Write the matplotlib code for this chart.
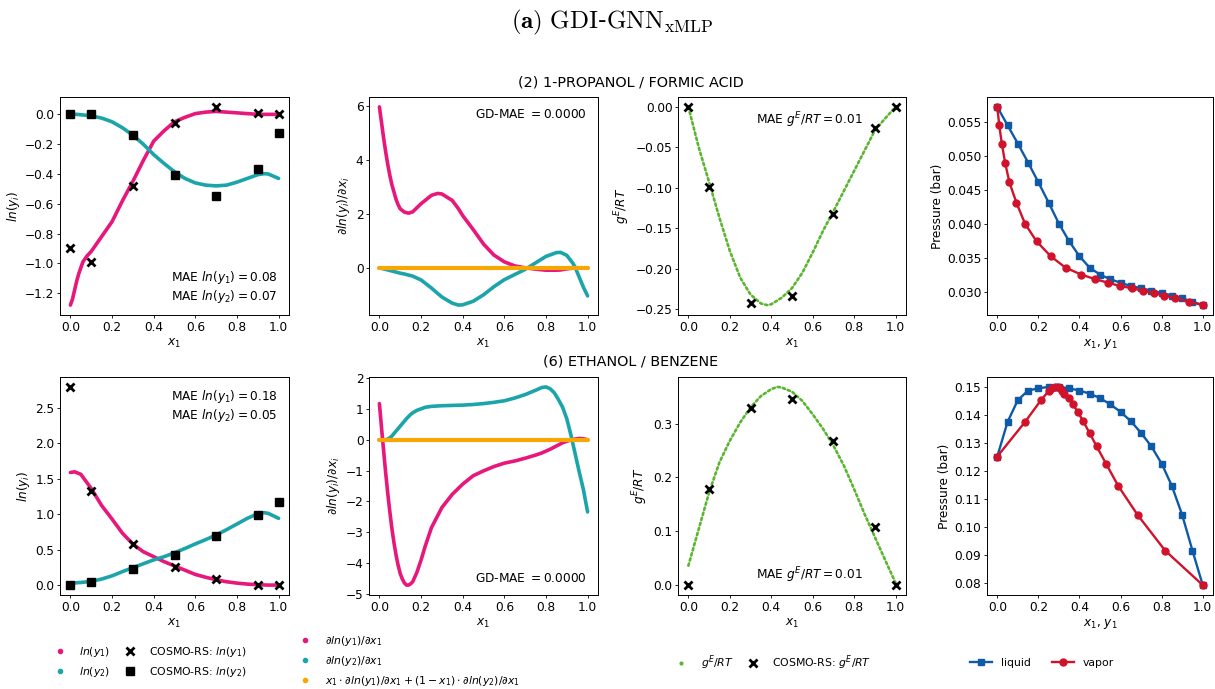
import numpy as np
import matplotlib
matplotlib.use("Agg")
import matplotlib.pyplot as plt
from matplotlib.lines import Line2D
from matplotlib.ticker import MultipleLocator

# colours
PINK = '#e8177b'
TEAL = '#1ba4a9'
ORANGE = '#f8a603'
GREEN = '#5cb531'
BLUE = '#0f5aa7'
RED = '#d1122b'

# COSMO-RS reference compositions
cosmo_x = [0.0, 0.1, 0.3, 0.5, 0.7, 0.9, 1.0]

# ---------------- (2) 1-PROPANOL / FORMIC ACID ----------------
lng_x_top = [0.0, 0.01, 0.02, 0.03, 0.04, 0.05, 0.06, 0.08, 0.1, 0.15, 0.2, 0.25, 0.3, 0.35,
             0.4, 0.45, 0.5, 0.55, 0.6, 0.65, 0.7, 0.75, 0.8, 0.85, 0.9, 0.93, 0.95, 1.0]
lng1_top = [-1.28, -1.24, -1.18, -1.12, -1.07, -1.03, -0.99, -0.95, -0.92, -0.82, -0.72, -0.58,
            -0.45, -0.31, -0.18, -0.11, -0.05, -0.02, 0.005, 0.015, 0.02, 0.015, 0.01, 0.005,
            0.0, 0.0, 0.0, 0.0]
lng2_top = [0.0, 0.0, 0.0, 0.0, -0.001, -0.003, -0.004, -0.007, -0.01, -0.025, -0.05, -0.09,
            -0.14, -0.2, -0.27, -0.33, -0.385, -0.43, -0.46, -0.475, -0.48, -0.475, -0.455,
            -0.43, -0.405, -0.398, -0.40, -0.43]
cosmo_lng1_top = [-0.90, -0.99, -0.48, -0.06, 0.05, 0.01, 0.0]
cosmo_lng2_top = [0.0, 0.0, -0.14, -0.41, -0.55, -0.37, -0.125]

grad_x_top = [0.0, 0.01, 0.02, 0.03, 0.04, 0.05, 0.06, 0.07, 0.08, 0.09, 0.1, 0.12, 0.14, 0.16,
              0.2, 0.25, 0.28, 0.3, 0.35, 0.38, 0.4, 0.45, 0.5, 0.55, 0.6, 0.65, 0.7, 0.75, 0.8,
              0.85, 0.87, 0.9, 0.93, 0.94, 0.96, 0.98, 1.0]
grad1_top = [5.95, 5.38, 4.81, 4.29, 3.83, 3.42, 3.07, 2.80, 2.53, 2.33, 2.18, 2.06, 2.02, 2.07,
             2.37, 2.68, 2.75, 2.73, 2.49, 2.18, 1.93, 1.42, 0.88, 0.47, 0.22, 0.07, 0.0, -0.05,
             -0.09, -0.09, -0.08, -0.04, -0.01, 0.0, 0.0, 0.0, 0.0]
grad2_top = [0.0, -0.02, -0.04, -0.06, -0.08, -0.1, -0.12, -0.14, -0.16, -0.18, -0.2, -0.23,
             -0.27, -0.31, -0.45, -0.75, -0.95, -1.08, -1.31, -1.38, -1.37, -1.24, -1.0, -0.7,
             -0.44, -0.25, -0.06, 0.18, 0.42, 0.56, 0.57, 0.46, 0.16, 0.02, -0.35, -0.72, -1.04]
gd_x = [0.0, 1.0]
gd_top = [0.0, 0.0]

ge_x_top = [0.0, 0.05, 0.1, 0.15, 0.2, 0.25, 0.3, 0.35, 0.38, 0.4, 0.45, 0.5, 0.55, 0.6, 0.65,
            0.7, 0.75, 0.8, 0.85, 0.9, 0.95, 1.0]
ge_top = [0.0, -0.05, -0.093, -0.137, -0.178, -0.211, -0.232, -0.243, -0.245, -0.244, -0.236,
          -0.224, -0.205, -0.18, -0.153, -0.129, -0.104, -0.079, -0.054, -0.029, -0.014, 0.0]
cosmo_ge_top = [0.0, -0.099, -0.242, -0.234, -0.132, -0.026, 0.0]

x_liq = [0.0, 0.05, 0.1, 0.15, 0.2, 0.25, 0.3, 0.35, 0.4, 0.45, 0.5, 0.55, 0.6, 0.65, 0.7, 0.75,
         0.8, 0.85, 0.9, 0.95, 1.0]
P_top = [0.0572, 0.0545, 0.0518, 0.0490, 0.0461, 0.0431, 0.0400, 0.0374, 0.0352, 0.0335, 0.0325,
         0.0318, 0.0313, 0.0308, 0.0305, 0.0301, 0.0298, 0.0294, 0.0290, 0.0285, 0.0280]
y_vap_top = [0.0, 0.0096, 0.022, 0.038, 0.059, 0.093, 0.135, 0.191, 0.26, 0.333, 0.409, 0.478,
             0.54, 0.598, 0.654, 0.708, 0.761, 0.8125, 0.867, 0.934, 1.0]

# ---------------- (6) ETHANOL / BENZENE ----------------
lng_x_bot = [0.0, 0.02, 0.05, 0.1, 0.15, 0.2, 0.25, 0.3, 0.35, 0.4, 0.45, 0.5, 0.55, 0.6, 0.65,
             0.7, 0.75, 0.8, 0.85, 0.9, 0.93, 0.95, 1.0]
lng1_bot = [1.585, 1.595, 1.56, 1.36, 1.12, 0.93, 0.73, 0.577, 0.47, 0.40, 0.33, 0.27, 0.21,
            0.15, 0.11, 0.075, 0.047, 0.028, 0.014, 0.005, 0.002, 0.0, 0.0]
lng2_bot = [0.028, 0.03, 0.037, 0.052, 0.085, 0.13, 0.19, 0.245, 0.30, 0.355, 0.40, 0.455,
            0.515, 0.58, 0.64, 0.705, 0.78, 0.86, 0.94, 1.005, 1.02, 1.01, 0.94]
cosmo_lng1_bot = [2.79, 1.32, 0.58, 0.25, 0.085, 0.005, 0.0]
cosmo_lng2_bot = [0.0, 0.05, 0.22, 0.43, 0.69, 0.99, 1.17]

grad_x_bot = [0.0, 0.01, 0.02, 0.03, 0.04, 0.05, 0.06, 0.07, 0.08, 0.09, 0.1, 0.11, 0.12, 0.13,
              0.14, 0.15, 0.16, 0.18, 0.2, 0.22, 0.25, 0.3, 0.35, 0.4, 0.45, 0.5, 0.55, 0.6,
              0.65, 0.7, 0.75, 0.78, 0.8, 0.82, 0.84, 0.86, 0.88, 0.9, 0.92, 0.94, 0.96, 0.98,
              1.0]
grad1_bot = [1.17, 0.40, -0.34, -1.07, -1.73, -2.33, -2.88, -3.34, -3.74, -4.07, -4.34, -4.51,
             -4.64, -4.71, -4.71, -4.67, -4.60, -4.30, -3.90, -3.45, -2.85, -2.20, -1.77,
             -1.44, -1.17, -1.01, -0.87, -0.76, -0.69, -0.60, -0.50, -0.43, -0.37, -0.31,
             -0.24, -0.17, -0.10, -0.05, -0.01, 0.02, 0.04, 0.03, 0.0]
grad2_bot = [0.0, 0.0, 0.0, 0.0, 0.02, 0.06, 0.12, 0.2, 0.28, 0.36, 0.44, 0.52, 0.6, 0.68, 0.75,
             0.82, 0.87, 0.95, 1.0, 1.05, 1.08, 1.1, 1.11, 1.12, 1.14, 1.17, 1.21, 1.26, 1.35,
             1.46, 1.6, 1.69, 1.71, 1.65, 1.52, 1.3, 1.05, 0.68, 0.15, -0.45, -1.05, -1.62,
             -2.34]
gd_bot = [0.0, 0.0]

ge_x_bot = [0.0, 0.05, 0.1, 0.15, 0.2, 0.25, 0.3, 0.35, 0.4, 0.43, 0.45, 0.5, 0.55, 0.6, 0.65,
            0.7, 0.75, 0.8, 0.85, 0.9, 0.95, 1.0]
ge_bot = [0.036, 0.104, 0.172, 0.228, 0.268, 0.302, 0.33, 0.351, 0.364, 0.368, 0.367, 0.359,
          0.342, 0.317, 0.29, 0.259, 0.222, 0.178, 0.132, 0.089, 0.046, 0.004]
cosmo_ge_bot = [0.0, 0.179, 0.329, 0.345, 0.267, 0.108, 0.0]

P_bot = [0.1251, 0.1374, 0.1452, 0.1486, 0.1494, 0.1499, 0.1499, 0.1494, 0.1486, 0.1475, 0.1459,
         0.1437, 0.1410, 0.1377, 0.1335, 0.1287, 0.1226, 0.1146, 0.1043, 0.0916, 0.0793]
y_vap_bot = [0.0, 0.135, 0.213, 0.252, 0.268, 0.282, 0.295, 0.306, 0.316, 0.327, 0.348, 0.368,
             0.392, 0.418, 0.449, 0.484, 0.529, 0.589, 0.683, 0.817, 1.0]

mae_lng_top = ['0.08', '0.07']
mae_lng_bot = ['0.18', '0.05']
mae_ge = ['0.01', '0.01']
gd_mae = ['0.0000', '0.0000']

# y tick spacing per row: ln(y), gradient, gE/RT, pressure
ystep = [[0.2, 2, 0.05, 0.005], [0.5, 1, 0.1, 0.01]]

plt.rcParams['font.size'] = 8.7
plt.rcParams['axes.linewidth'] = 0.7
for ax_ in ('xtick', 'ytick'):
    plt.rcParams[ax_ + '.major.size'] = 2.2
    plt.rcParams[ax_ + '.major.width'] = 0.6
    plt.rcParams[ax_ + '.major.pad'] = 1.8
plt.rcParams['axes.labelpad'] = 2.5

W, H = 1215, 689
fig = plt.figure(figsize=(W / 100, H / 100), dpi=100)


def box(left, top, w=228, h=218):
    return [left / W, 1 - (top + h) / H, w / W, h / H]


lefts = [60, 369, 678, 987]
tops = [97, 377]

rows = [
    dict(lx=lng_x_top, l1=lng1_top, l2=lng2_top, c1=cosmo_lng1_top, c2=cosmo_lng2_top,
         gx=grad_x_top, g1=grad1_top, g2=grad2_top, gd=gd_top,
         ex=ge_x_top, ge=ge_top, ce=cosmo_ge_top, P=P_top, yv=y_vap_top,
         mae=mae_lng_top, mae_pos='bottom'),
    dict(lx=lng_x_bot, l1=lng1_bot, l2=lng2_bot, c1=cosmo_lng1_bot, c2=cosmo_lng2_bot,
         gx=grad_x_bot, g1=grad1_bot, g2=grad2_bot, gd=gd_bot,
         ex=ge_x_bot, ge=ge_bot, ce=cosmo_ge_bot, P=P_bot, yv=y_vap_bot,
         mae=mae_lng_bot, mae_pos='top'),
]

for r, d in enumerate(rows):
    top = tops[r]
    # ln gamma
    ax = fig.add_axes(box(lefts[0], top, 229))
    ax.plot(d['lx'], d['l1'], color=PINK, lw=2.6, solid_capstyle='round')
    ax.plot(d['lx'], d['l2'], color=TEAL, lw=2.6, solid_capstyle='round')
    ax.plot(cosmo_x, d['c1'], 'x', color='black', ms=6, mew=2)
    ax.plot(cosmo_x, d['c2'], 's', color='black', ms=5.5)
    ax.set_xlabel('$x_1$')
    ax.set_ylabel('$ln(y_i)$')
    ax.yaxis.set_major_locator(MultipleLocator(ystep[r][0]))
    txt = 'MAE $ln(y_1) = %s$\nMAE $ln(y_2) = %s$' % (d['mae'][0], d['mae'][1])
    if d['mae_pos'] == 'bottom':
        ax.text(0.95, 0.045, txt, transform=ax.transAxes, ha='right', va='bottom')
    else:
        ax.text(0.95, 0.95, txt, transform=ax.transAxes, ha='right', va='top')

    # gradients
    ax = fig.add_axes(box(lefts[1], top, 229))
    ax.plot(d['gx'], d['g1'], color=PINK, lw=2.6, solid_capstyle='round')
    ax.plot(d['gx'], d['g2'], color=TEAL, lw=2.6, solid_capstyle='round')
    ax.plot(gd_x, d['gd'], color=ORANGE, lw=3, solid_capstyle='round', zorder=5)
    ax.set_xlabel('$x_1$')
    ax.set_ylabel(r'$\partial ln(y_i)/\partial x_i$')
    ax.yaxis.set_major_locator(MultipleLocator(ystep[r][1]))
    if r == 0:
        ax.text(0.95, 0.95, 'GD-MAE $=%s$' % gd_mae[r], transform=ax.transAxes, ha='right', va='top')
    else:
        ax.text(0.95, 0.045, 'GD-MAE $=%s$' % gd_mae[r], transform=ax.transAxes, ha='right', va='bottom')

    # excess Gibbs energy
    ax = fig.add_axes(box(lefts[2], top))
    ax.plot(d['ex'], d['ge'], color=GREEN, lw=1.9, ls=(0, (0.9, 1.1)), dash_capstyle='round')
    ax.plot(cosmo_x, d['ce'], 'x', color='black', ms=6, mew=2)
    ax.set_xlabel('$x_1$')
    ax.set_ylabel('$g^E/RT$')
    ax.yaxis.set_major_locator(MultipleLocator(ystep[r][2]))
    if r == 0:
        ax.text(0.81, 0.94, 'MAE $g^E/RT = %s$' % mae_ge[r], transform=ax.transAxes, ha='right', va='top')
    else:
        ax.text(0.81, 0.045, 'MAE $g^E/RT = %s$' % mae_ge[r], transform=ax.transAxes, ha='right', va='bottom')

    # isothermal VLE
    ax = fig.add_axes(box(lefts[3], top, 226))
    ax.plot(x_liq, d['P'], '-s', color=BLUE, lw=1.7, ms=5)
    ax.plot(d['yv'], d['P'], '-o', color=RED, lw=1.7, ms=5)
    ax.set_xlabel('$x_1$, $y_1$')
    ax.set_ylabel('Pressure (bar)')
    ax.yaxis.set_major_locator(MultipleLocator(ystep[r][3]))

fig.text(631 / W, 1 - 82 / H, '(2) 1-PROPANOL / FORMIC ACID', ha='center', va='center', fontsize=10.4)
fig.text(631 / W, 1 - 362 / H, '(6) ETHANOL / BENZENE', ha='center', va='center', fontsize=10.4)
fig.text(612 / W, 1 - 22 / H, r'$\mathbf{(a)}\ \mathrm{GDI}$-$\mathrm{GNN}_{\mathrm{xMLP}}$',
         ha='center', va='center', fontsize=18, math_fontfamily='cm', family='DejaVu Serif')

# legends below each column
leg_kw = dict(frameon=False, fontsize=7.8, loc='center', handletextpad=0.8, labelspacing=0.55)
h1 = [Line2D([], [], ls='none', marker='o', ms=3, color=PINK),
      Line2D([], [], ls='none', marker='o', ms=3, color=TEAL),
      Line2D([], [], ls='none', marker='x', ms=6, mew=2, color='black'),
      Line2D([], [], ls='none', marker='s', ms=5.5, color='black')]
fig.legend(h1, ['$ln(y_1)$', '$ln(y_2)$', 'COSMO-RS: $ln(y_1)$', 'COSMO-RS: $ln(y_2)$'],
           ncol=2, columnspacing=0.8, bbox_to_anchor=(148 / W, 1 - 662 / H), **leg_kw)

h2 = [Line2D([], [], ls='none', marker='o', ms=3, color=PINK),
      Line2D([], [], ls='none', marker='o', ms=3, color=TEAL),
      Line2D([], [], ls='none', marker='o', ms=3, color=ORANGE)]
fig.legend(h2, [r'$\partial ln(y_1)/\partial x_1$', r'$\partial ln(y_2)/\partial x_1$',
                r'$x_1 \cdot \partial ln(y_1)/\partial x_1 + (1 - x_1) \cdot \partial ln(y_2)/\partial x_1$'],
           bbox_to_anchor=(407 / W, 1 - 661 / H), **leg_kw)

h3 = [Line2D([], [], ls='none', marker='o', ms=2, color=GREEN),
      Line2D([], [], ls='none', marker='x', ms=6, mew=2, color='black')]
fig.legend(h3, ['$g^E/RT$', 'COSMO-RS: $g^E/RT$'], ncol=2, columnspacing=0.8,
           bbox_to_anchor=(771 / W, 1 - 663 / H), **leg_kw)

h4 = [Line2D([], [], marker='s', ms=5, lw=1.7, color=BLUE),
      Line2D([], [], marker='o', ms=5, lw=1.7, color=RED)]
fig.legend(h4, ['liquid', 'vapor'], ncol=2, bbox_to_anchor=(1042 / W, 1 - 663 / H), **leg_kw)

fig.savefig('out.png', dpi=100)
